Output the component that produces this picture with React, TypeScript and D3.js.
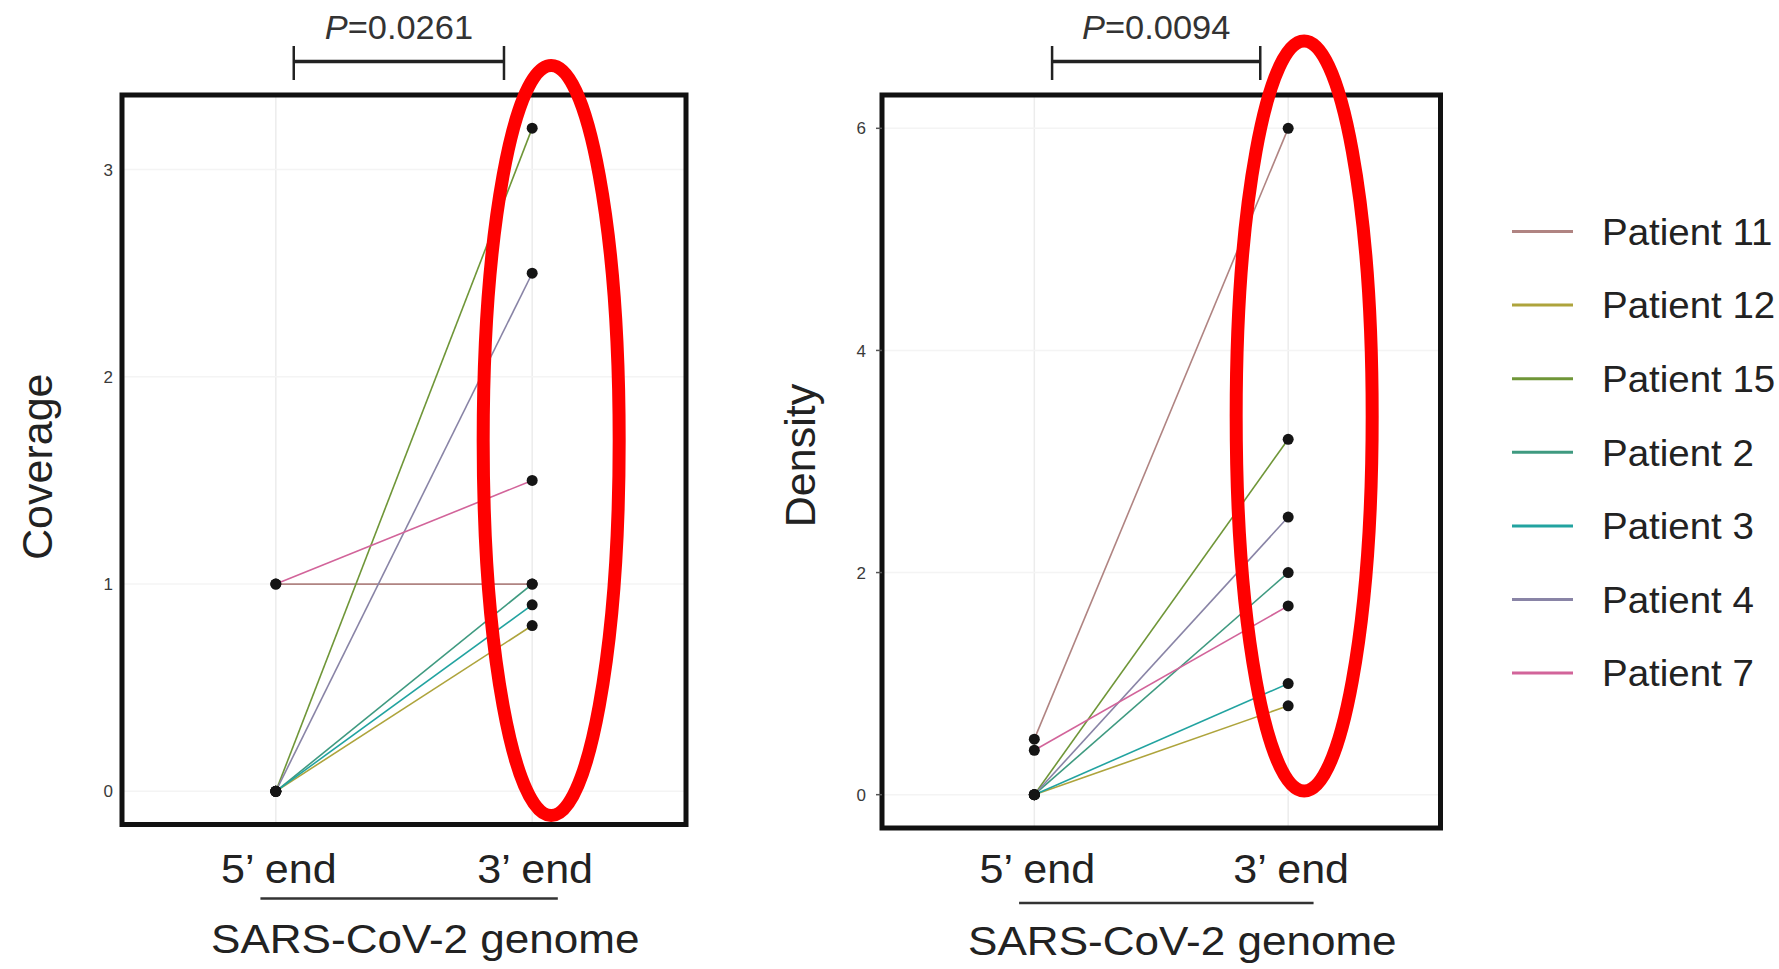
import React from 'react';
import * as d3 from 'd3';

// ---- data ----
const patients = ['Patient 11', 'Patient 12', 'Patient 15', 'Patient 2', 'Patient 3', 'Patient 4', 'Patient 7'];
const patientColors = ['#b08482', '#aea43c', '#6f9638', '#3f9a80', '#22a3a0', '#8984a6', '#d2649a'];
const ends = ['5\u2019 end', '3\u2019 end'];
const coverage5 = [1, 0, 0, 0, 0, 0, 1];
const coverage3 = [1.0, 0.8, 3.2, 1.0, 0.9, 2.5, 1.5];
const density5 = [0.5, 0, 0, 0, 0, 0, 0.4];
const density3 = [6.0, 0.8, 3.2, 2.0, 1.0, 2.5, 1.7];
const coverageTicks = [0, 1, 2, 3];
const densityTicks = [0, 2, 4, 6];
const pValues = ['0.0261', '0.0094'];
const yTitles = ['Coverage', 'Density'];
const xTitle = 'SARS-CoV-2 genome';

const FONT = '"Liberation Sans", Arial, Helvetica, sans-serif';

type PanelProps = {
  box: { x0: number; x1: number; y0: number; y1: number };
  v5: number[];
  v3: number[];
  ticks: number[];
  p: string;
  yTitle: string;
  yTitleX: number;
  yTitleDy: number;
  showTickMarks: boolean;
  ellipse: { dx: number; cy: number; rx: number; ry: number };
  underlineY: number;
  titleY: number;
};

function SText({ x, y, sx, children, ...rest }: any) {
  return (
    <text transform={`translate(${x},${y}) scale(${sx},1)`} {...rest}>
      {children}
    </text>
  );
}

function Panel({ box, v5, v3, ticks, p, yTitle, yTitleX, yTitleDy, showTickMarks, ellipse, underlineY, titleY }: PanelProps) {
  const all = [...v5, ...v3];
  const lo = Math.min(0, d3.min(all) as number);
  const hi = d3.max(all) as number;
  const pad = (hi - lo) * 0.05;
  const y = d3.scaleLinear().domain([lo - pad, hi + pad]).range([box.y1, box.y0]);
  const x = d3.scalePoint<string>().domain(ends).range([box.x0, box.x1]).padding(0.6);
  const step = x.step();
  const pos = (u: number) => (x(ends[0]) as number) + (u - 1) * step;
  const lineGen = d3.line<[number, number]>().x(d => d[0]).y(d => d[1]);

  const bx0 = pos(1.07), bx1 = pos(1.89);
  const bracketY = 61.5;

  return (
    <g>
      {/* grid */}
      {ends.map(e => (
        <line key={e} x1={x(e)} x2={x(e)} y1={box.y0} y2={box.y1} stroke="#ececec" strokeWidth={1.5} />
      ))}
      {ticks.map(t => (
        <line key={'h' + t} x1={box.x0} x2={box.x1} y1={y(t)} y2={y(t)} stroke="#f4f4f4" strokeWidth={1.5} />
      ))}
      {/* patient lines */}
      {patients.map((pt, i) => (
        <path
          key={pt}
          d={lineGen([[x(ends[0]) as number, y(v5[i])], [x(ends[1]) as number, y(v3[i])]]) as string}
          stroke={patientColors[i]}
          strokeWidth={1.6}
          fill="none"
        />
      ))}
      {/* points */}
      {patients.map((pt, i) => (
        <g key={'pt' + pt}>
          <circle cx={x(ends[0])} cy={y(v5[i])} r={5.5} fill="#151515" />
          <circle cx={x(ends[1])} cy={y(v3[i])} r={5.5} fill="#151515" />
        </g>
      ))}
      {/* box */}
      <rect x={box.x0} y={box.y0} width={box.x1 - box.x0} height={box.y1 - box.y0} fill="none" stroke="#111" strokeWidth={5} />
      {/* y ticks */}
      {ticks.map(t => (
        <g key={'t' + t}>
          {showTickMarks && <line x1={box.x0 - 6} x2={box.x0} y1={y(t)} y2={y(t)} stroke="#555" strokeWidth={1.5} />}
          <text x={box.x0 - (showTickMarks ? 16 : 9)} y={y(t)} dy="0.36em" textAnchor="end" fontSize={17} fill="#3a3a3a" fontFamily={FONT}>
            {t}
          </text>
        </g>
      ))}
      {/* y title */}
      <text
        transform={`translate(${yTitleX},${(box.y0 + box.y1) / 2 + yTitleDy}) rotate(-90)`}
        textAnchor="middle"
        fontSize={43}
        fill="#222"
        fontFamily={FONT}
      >
        {yTitle}
      </text>
      {/* x labels */}
      {ends.map(e => (
        <SText key={'x' + e} x={(x(e) as number) + 3} y={883} sx={1.05} textAnchor="middle" fontSize={41} fill="#222" fontFamily={FONT}>
          {e}
        </SText>
      ))}
      <line x1={pos(0.94)} x2={pos(2.1)} y1={underlineY} y2={underlineY} stroke="#333" strokeWidth={2.5} />
      <SText x={pos(1.583)} y={titleY} sx={1.075} textAnchor="middle" fontSize={41} fill="#222" fontFamily={FONT}>
        {xTitle}
      </SText>
      {/* significance bracket */}
      <line x1={bx0} x2={bx1} y1={bracketY} y2={bracketY} stroke="#222" strokeWidth={3.5} />
      <line x1={bx0} x2={bx0} y1={46} y2={80} stroke="#222" strokeWidth={2.5} />
      <line x1={bx1} x2={bx1} y1={46} y2={80} stroke="#222" strokeWidth={2.5} />
      <SText x={(bx0 + bx1) / 2} y={39} sx={1.06} textAnchor="middle" fontSize={32.5} fill="#333" fontFamily={FONT}>
        <tspan fontStyle="italic">P</tspan>={p}
      </SText>
      {/* red highlight ellipse */}
      <ellipse
        cx={(x(ends[1]) as number) + ellipse.dx}
        cy={ellipse.cy}
        rx={ellipse.rx}
        ry={ellipse.ry}
        fill="none"
        stroke="#ff0000"
        strokeWidth={13}
      />
    </g>
  );
}

export default function App() {
  const legendY0 = 231.5;
  const legendStep = 73.6;
  return (
    <svg
      width={1779}
      height={969}
      style={{ position: 'absolute', left: 0, top: 0, display: 'block', background: '#fff' }}
    >
      <rect x={0} y={0} width={1779} height={969} fill="#fff" />
      <Panel
        box={{ x0: 122, x1: 686, y0: 95, y1: 824.5 }}
        v5={coverage5}
        v3={coverage3}
        ticks={coverageTicks}
        p={pValues[0]}
        yTitle={yTitles[0]}
        yTitleX={52}
        yTitleDy={7}
        showTickMarks={false}
        ellipse={{ dx: 19, cy: 440.5, rx: 68, ry: 375 }}
        underlineY={898.5}
        titleY={953}
      />
      <Panel
        box={{ x0: 882, x1: 1440.5, y0: 95, y1: 828 }}
        v5={density5}
        v3={density3}
        ticks={densityTicks}
        p={pValues[1]}
        yTitle={yTitles[1]}
        yTitleX={815}
        yTitleDy={-6}
        showTickMarks={true}
        ellipse={{ dx: 16, cy: 416, rx: 68, ry: 375 }}
        underlineY={903}
        titleY={955}
      />
      {/* legend */}
      {patients.map((pt, i) => {
        const ly = legendY0 + i * legendStep;
        return (
          <g key={'lg' + pt}>
            <line x1={1512} x2={1573} y1={ly} y2={ly} stroke={patientColors[i]} strokeWidth={3} />
            <SText x={1602} y={ly} sx={1.04} dy="0.36em" fontSize={37} fill="#222" fontFamily={FONT}>
              {pt}
            </SText>
          </g>
        );
      })}
    </svg>
  );
}
